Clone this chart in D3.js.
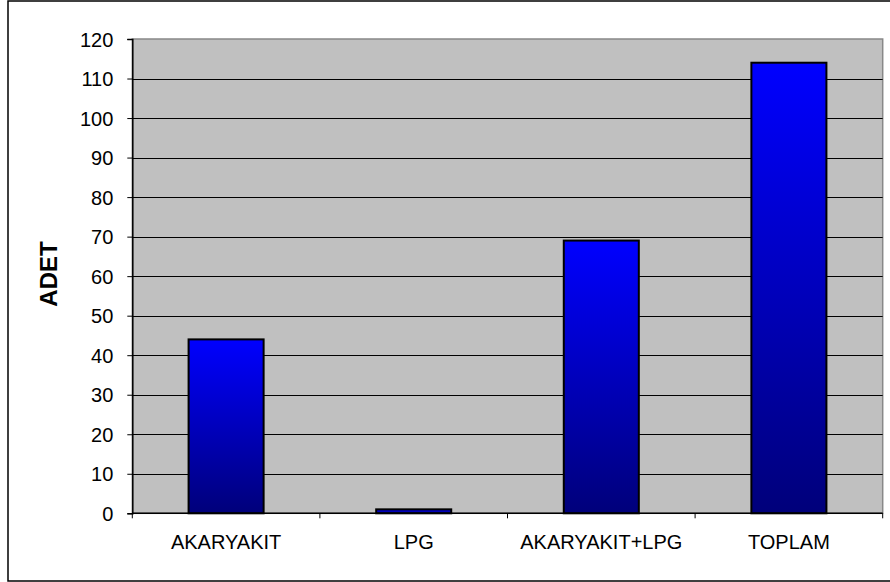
<!DOCTYPE html>
<html><head><meta charset="utf-8">
<script src="https://cdn.jsdelivr.net/npm/d3@7"></script>
<style>html,body{margin:0;padding:0;background:#fff;}svg{display:block;}</style>
</head><body>
<script>
const categories = ["AKARYAKIT", "LPG", "AKARYAKIT+LPG", "TOPLAM"];
const values = [44, 1, 69, 114];
const yTicks = [0, 10, 20, 30, 40, 50, 60, 70, 80, 90, 100, 110, 120];
const yLabel = "ADET";

const W = 890, H = 582;
const pLeft = 132.3, pRight = 882.7, pTop = 39, pBottom = 513.3;

const svg = d3.select("body").append("svg").attr("width", W).attr("height", H);

const defs = svg.append("defs");
const grad = defs.append("linearGradient").attr("id", "barGrad")
  .attr("x1", 0).attr("y1", 0).attr("x2", 0).attr("y2", 1);
grad.append("stop").attr("offset", "0%").attr("stop-color", "#0000FF");
grad.append("stop").attr("offset", "100%").attr("stop-color", "#00007A");

// outer border
svg.append("rect").attr("x", 8).attr("y", 1).attr("width", 900).attr("height", 580)
  .attr("fill", "#fff").attr("stroke", "#000").attr("stroke-width", 1.5);

const x = d3.scaleBand().domain(categories).range([pLeft, pRight]).paddingInner(0.6).paddingOuter(0.3);
const xb = d3.scaleBand().domain(categories).range([pLeft, pRight]).padding(0);
const y = d3.scaleLinear().domain([0, 120]).range([pBottom, pTop]);

// plot background
svg.append("rect").attr("x", pLeft).attr("y", pTop).attr("width", pRight - pLeft).attr("height", pBottom - pTop)
  .attr("fill", "#C0C0C0").attr("stroke", "#888").attr("stroke-width", 1.5);

// gridlines
svg.append("g").selectAll("line").data(yTicks.filter(d => d > 0 && d < 120)).join("line")
  .attr("x1", pLeft).attr("x2", pRight)
  .attr("y1", d => Math.round(y(d)) + 0.5).attr("y2", d => Math.round(y(d)) + 0.5)
  .attr("stroke", "#000").attr("stroke-width", 1);

// bars
svg.append("g").selectAll("rect").data(values).join("rect")
  .attr("x", (d, i) => x(categories[i]))
  .attr("y", d => y(d))
  .attr("width", x.bandwidth())
  .attr("height", d => y(0) - y(d))
  .attr("fill", "url(#barGrad)")
  .attr("stroke", "#000").attr("stroke-width", 2);

// y axis
const yAxis = svg.append("g").attr("transform", `translate(${pLeft},0)`)
  .call(d3.axisLeft(y).tickValues(yTicks).tickSize(5).tickPadding(14).tickFormat(d3.format("d")));
yAxis.select(".domain").attr("stroke", "#000").attr("stroke-width", 1.5);
yAxis.selectAll(".tick line").attr("stroke", "#000");
yAxis.selectAll("text").attr("font-family", "Liberation Sans, Arial, sans-serif")
  .attr("font-size", 20).attr("fill", "#000").attr("dy", "0.35em");

// x axis
const xAxis = svg.append("g").attr("transform", `translate(0,${pBottom})`);
xAxis.append("line").attr("x1", pLeft).attr("x2", pRight).attr("y1", 0).attr("y2", 0)
  .attr("stroke", "#000").attr("stroke-width", 1.5);
const bounds = categories.map(c => xb(c)).concat([pRight]);
xAxis.selectAll("line.tk").data(bounds).join("line").attr("class", "tk")
  .attr("x1", d => d).attr("x2", d => d).attr("y1", 0).attr("y2", 5)
  .attr("stroke", "#000");
xAxis.selectAll("text").data(categories).join("text")
  .attr("x", d => xb(d) + xb.bandwidth() / 2)
  .attr("y", 36)
  .attr("text-anchor", "middle")
  .attr("font-family", "Liberation Sans, Arial, sans-serif")
  .attr("font-size", 20).attr("fill", "#000")
  .text(d => d);

// y label
svg.append("text")
  .attr("transform", `translate(57,274) rotate(-90)`)
  .attr("text-anchor", "middle")
  .attr("font-family", "Liberation Sans, Arial, sans-serif")
  .attr("font-weight", "bold").attr("font-size", 24).attr("fill", "#000")
  .text(yLabel);
</script>
</body></html>
